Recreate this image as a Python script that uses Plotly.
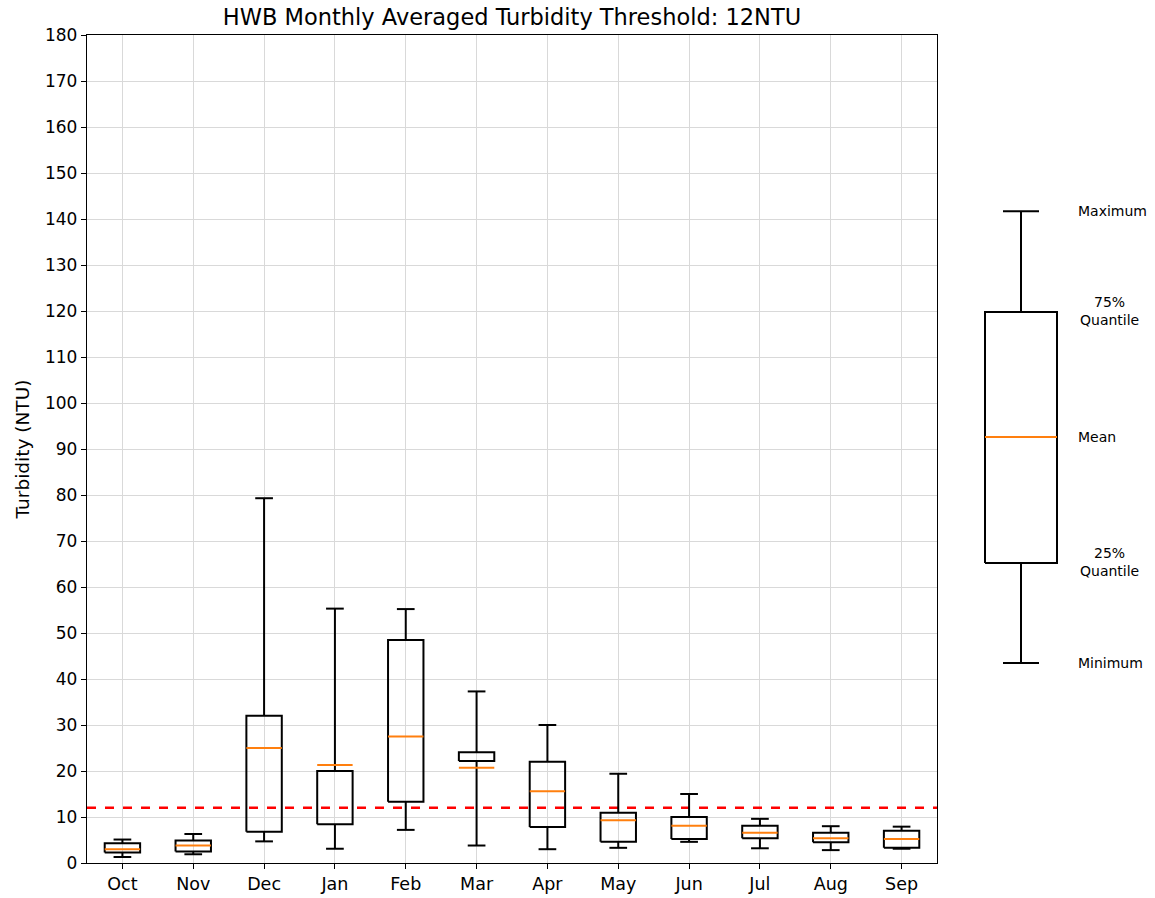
import plotly.graph_objects as go

months = ["Oct", "Nov", "Dec", "Jan", "Feb", "Mar", "Apr", "May", "Jun", "Jul", "Aug", "Sep"]
minimum = [1.3, 1.9, 4.7, 3.1, 7.2, 3.8, 3.0, 3.3, 4.6, 3.2, 2.8, 3.1]
q1 = [2.3, 2.5, 6.8, 8.4, 13.3, 22.2, 7.8, 4.6, 5.2, 5.4, 4.5, 3.3]
mean = [3.0, 3.8, 25.0, 21.3, 27.5, 20.7, 15.6, 9.3, 8.1, 6.6, 5.4, 5.2]
q3 = [4.3, 4.9, 32.0, 20.0, 48.5, 24.1, 22.0, 10.9, 10.0, 8.1, 6.6, 7.0]
maximum = [5.1, 6.3, 79.3, 55.3, 55.2, 37.3, 30.0, 19.4, 15.0, 9.6, 8.0, 7.9]
threshold = 12

legend_labels = ["Maximum", "75%<br>Quantile", "Mean", "25%<br>Quantile", "Minimum"]
legend_stats = [141.7, 119.8, 92.6, 65.2, 43.5]  # max, q3, mean, q1, min

BOX_HALF = 0.25
CAP_HALF = 0.125


def box_paths(xs, mins, q1s, means, q3s, maxs):
    bx, by, mx, my = [], [], [], []
    for x, lo, a, m, b, hi in zip(xs, mins, q1s, means, q3s, maxs):
        bx += [x - BOX_HALF, x + BOX_HALF, x + BOX_HALF, x - BOX_HALF, x - BOX_HALF, None]
        by += [a, a, b, b, a, None]
        bx += [x, x, None, x, x, None]
        by += [b, hi, None, a, lo, None]
        bx += [x - CAP_HALF, x + CAP_HALF, None, x - CAP_HALF, x + CAP_HALF, None]
        by += [hi, hi, None, lo, lo, None]
        mx += [x - BOX_HALF, x + BOX_HALF, None]
        my += [m, m, None]
    return bx, by, mx, my


positions = list(range(1, len(months) + 1))
bx, by, mx, my = box_paths(positions, minimum, q1, mean, q3, maximum)

fig = go.Figure()
fig.add_trace(go.Scatter(x=[0.5, 12.5], y=[threshold, threshold], mode="lines",
                         line=dict(color="#ff0000", width=2.5, dash="dash"),
                         hoverinfo="skip", showlegend=False, xaxis="x", yaxis="y"))
fig.add_trace(go.Scatter(x=bx, y=by, mode="lines", line=dict(color="black", width=2),
                         hoverinfo="skip", showlegend=False, xaxis="x", yaxis="y"))
fig.add_trace(go.Scatter(x=mx, y=my, mode="lines", line=dict(color="#ff7f0e", width=2),
                         hoverinfo="skip", showlegend=False, xaxis="x", yaxis="y"))

# legend diagram
lmax, lq3, lmean, lq1, lmin = legend_stats
lbx, lby, lmx, lmy = box_paths([0.5], [lmin], [lq1], [lmean], [lq3], [lmax])
fig.add_trace(go.Scatter(x=lbx, y=lby, mode="lines", line=dict(color="black", width=2),
                         hoverinfo="skip", showlegend=False, xaxis="x2", yaxis="y2"))
fig.add_trace(go.Scatter(x=lmx, y=lmy, mode="lines", line=dict(color="#ff7f0e", width=2),
                         hoverinfo="skip", showlegend=False, xaxis="x2", yaxis="y2"))

label_y = [lmax, lq3 + 0.2, lmean, lq1 + 0.2, lmin]
label_x = [0.882, 1.118, 0.882, 1.118, 0.882]
label_anchor = ["left", "center", "left", "center", "left"]
for t, ly, lx, anc in zip(legend_labels, label_y, label_x, label_anchor):
    fig.add_annotation(x=lx, y=ly, xref="x2", yref="y2", text=t, showarrow=False,
                       xanchor=anc, yanchor="middle", align="center",
                       font=dict(family="DejaVu Sans", size=14, color="black"))

W, H = 1155, 898
ml, mr, mt, mb = 87, 0, 35, 35
pw = W - ml - mr

fig.update_layout(
    width=W, height=H,
    margin=dict(l=ml, r=mr, t=mt, b=mb, autoexpand=False),
    paper_bgcolor="white", plot_bgcolor="white",
    font=dict(family="DejaVu Sans", size=17, color="black"),
    title=dict(text="HWB Monthly Averaged Turbidity Threshold: 12NTU",
               x=(87 + 850 / 2) / W, xanchor="center", y=1 - 17 / H, yanchor="middle",
               font=dict(size=22.5, color="black")),
    showlegend=False,
    xaxis=dict(domain=[0, 850 / pw], range=[0.5, 12.5], tickmode="array",
               tickvals=positions, ticktext=months, showgrid=True, gridcolor="#d9d9d9",
               gridwidth=1, zeroline=False, showline=True, linecolor="black", linewidth=1.3,
               mirror=True, ticks="outside", ticklen=5, tickcolor="black", tickwidth=1.3,
               tickfont=dict(size=17.5)),
    yaxis=dict(range=[0, 180], tickmode="linear", tick0=0, dtick=10, showgrid=True,
               gridcolor="#d9d9d9", gridwidth=1, zeroline=False, showline=True,
               linecolor="black", linewidth=1.3, mirror=True, ticks="outside", ticklen=5,
               tickcolor="black", tickwidth=1.3, tickfont=dict(size=17),
               title=dict(text="Turbidity (NTU)", font=dict(size=18.5), standoff=10)),
    xaxis2=dict(domain=[(949 - ml) / pw, (949 + 1.4 * 144 - ml) / pw], range=[0, 1.4],
                visible=False, anchor="y2"),
    yaxis2=dict(domain=[0, 1], range=[0, 180], visible=False, anchor="x2"),
)

fig.write_html("out.html", config={"displayModeBar": False},
               post_script="document.body.style.margin='0';document.body.style.overflow='hidden';")
